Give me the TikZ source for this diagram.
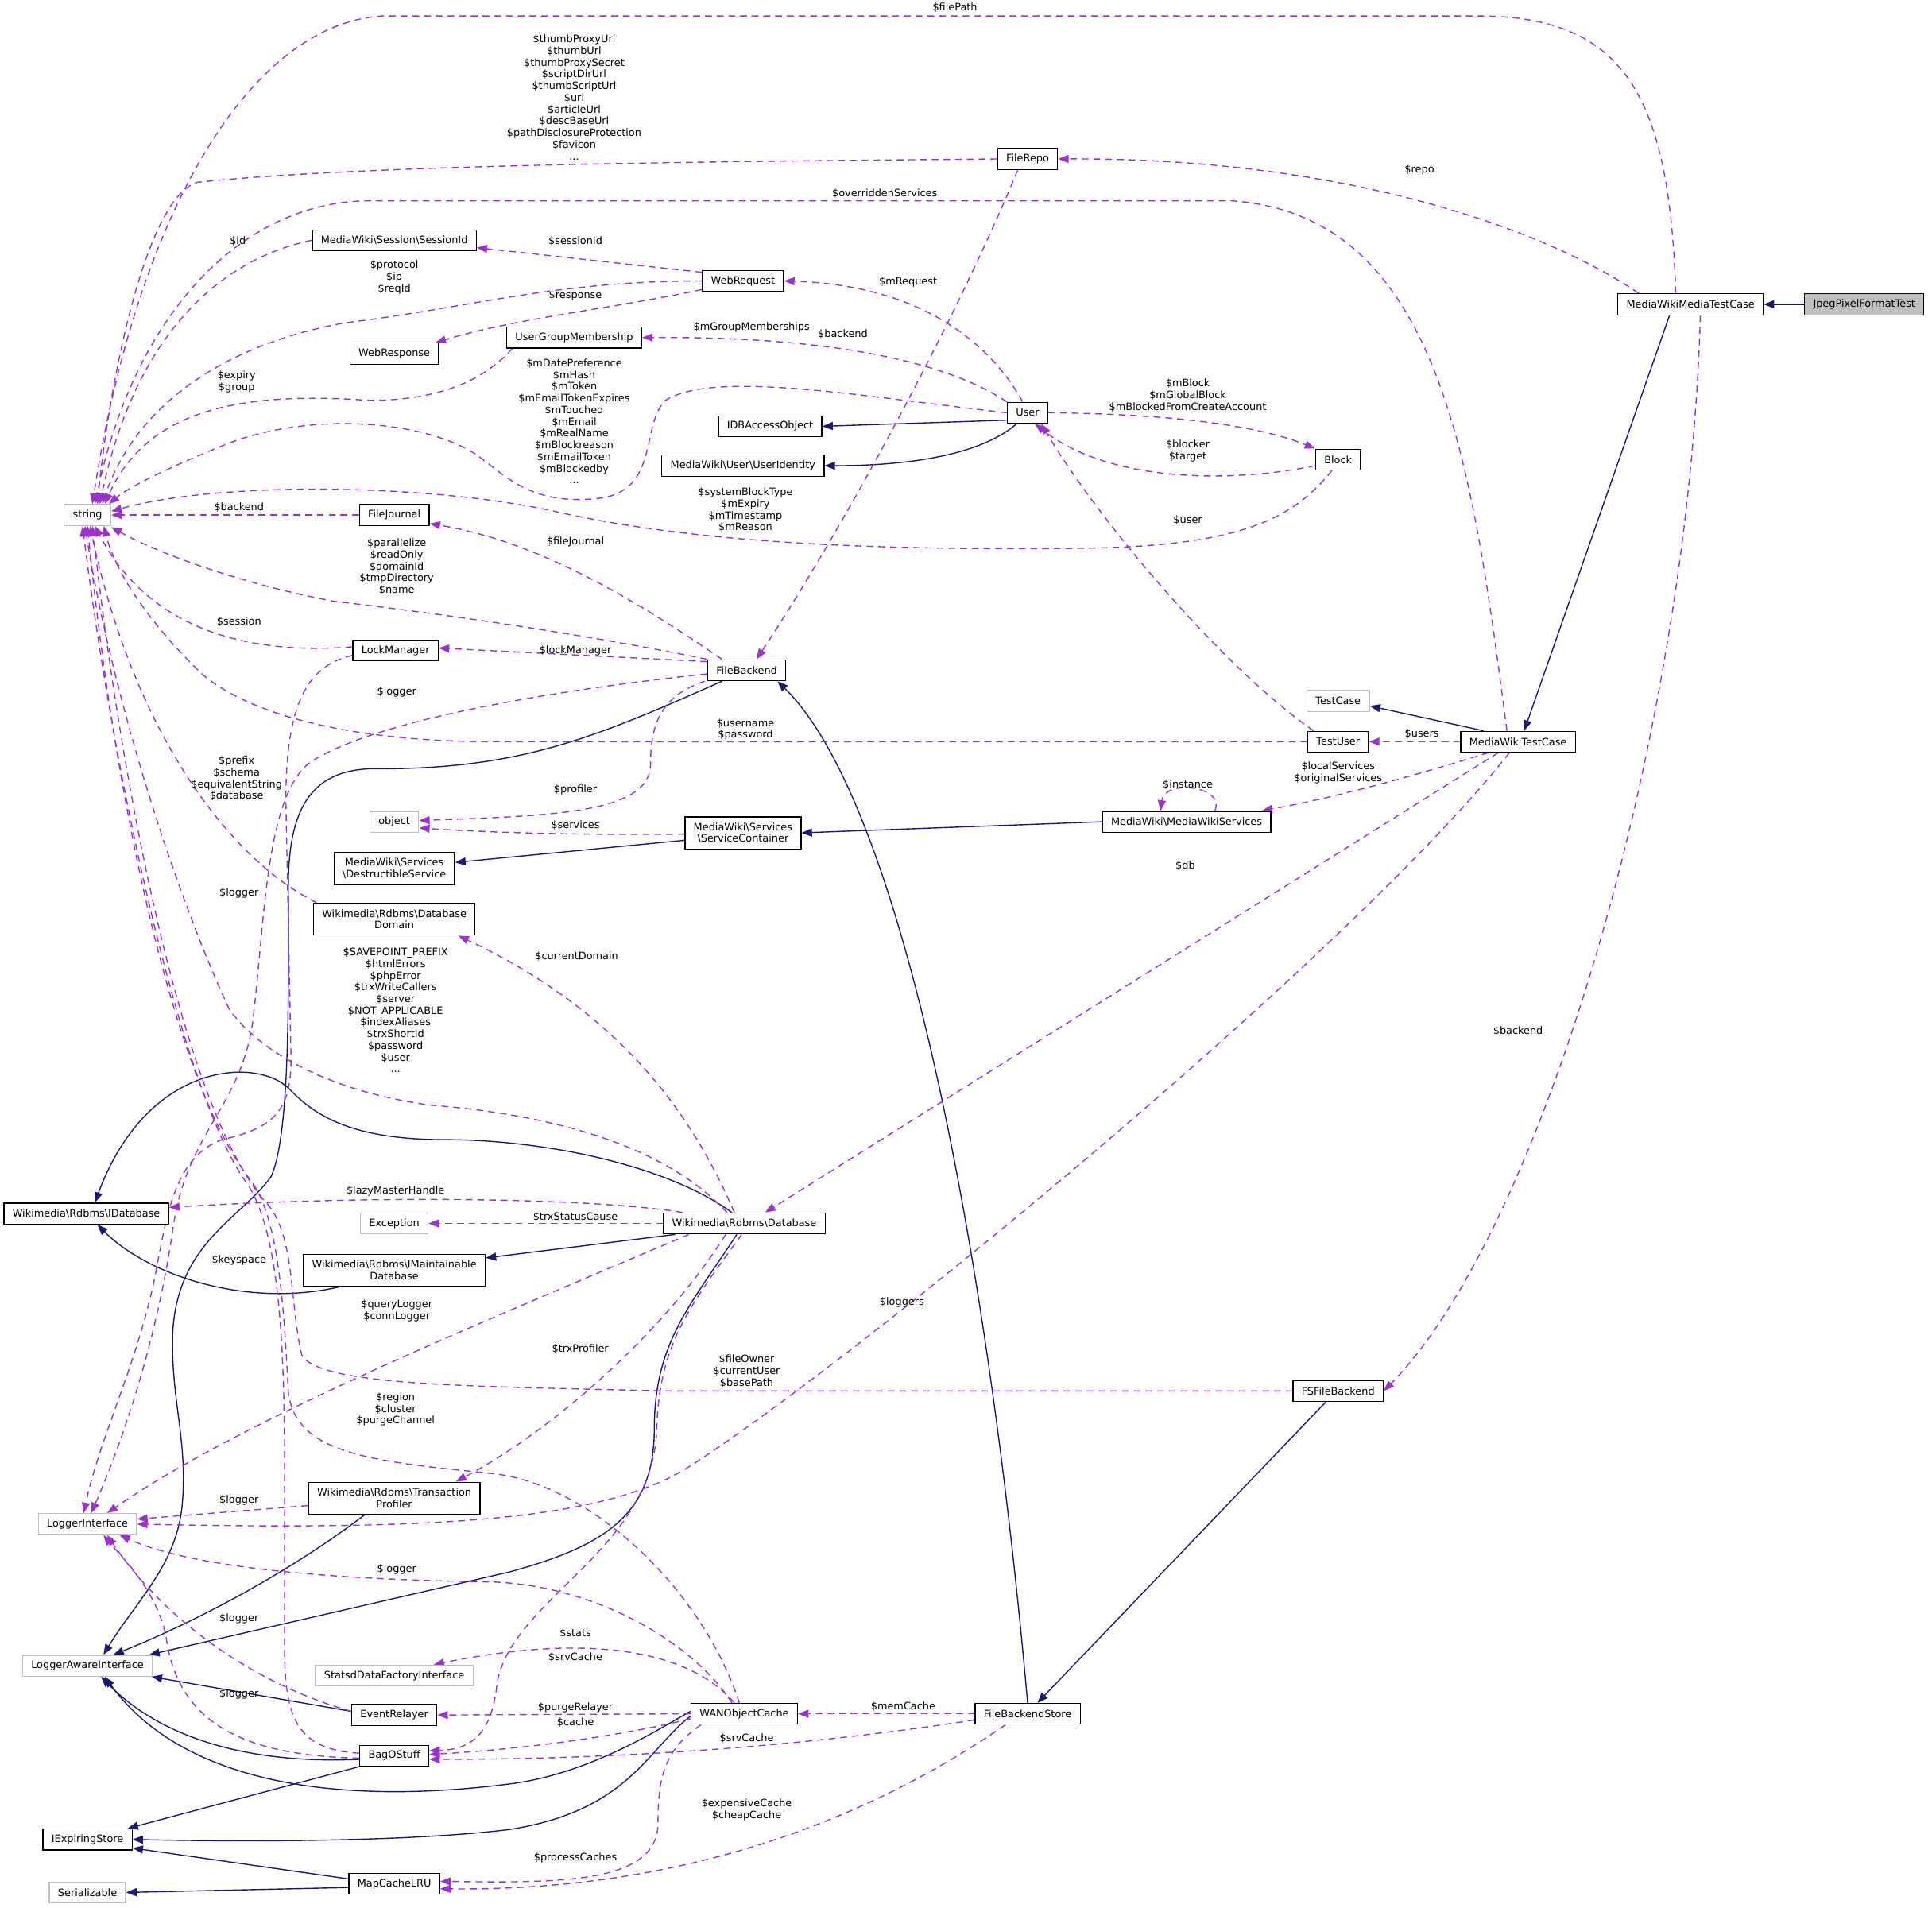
\documentclass[tikz,border=0pt]{standalone}
\usepackage{fontspec}
\setmainfont{DejaVu Sans}
\usetikzlibrary{arrows.meta}
\definecolor{edgeblue}{HTML}{191970}
\definecolor{edgepurple}{HTML}{9A32CD}
\definecolor{boxgray}{HTML}{BFBFBF}
\newcommand{\dgfont}{\fontsize{8.3}{9.5}\selectfont}
\pgfdeclarelayer{edgelayer}
\pgfsetlayers{edgelayer,main}
\begin{document}
\begin{tikzpicture}[x=1pt,y=-1pt,
  cls/.style={draw=black, line width=0.8pt, fill=white, font=\dgfont, inner xsep=7pt, inner ysep=0pt, minimum height=17pt, align=center},
  ext/.style={cls, draw=boxgray},
  two/.style={minimum height=26pt},
  lbl/.style={font=\dgfont, inner sep=0pt, align=center},
  inh/.style={draw=edgeblue, line width=0.9pt, -{Triangle[length=8.5pt,width=6.5pt]}},
  dep/.style={draw=edgepurple, line width=0.9pt, dash pattern=on 5.5pt off 4pt, -{Triangle[length=8.5pt,width=6.5pt]}}]
\useasboundingbox (0,0) rectangle (1568,1548);
% nodes
\node[cls, fill=boxgray] (jpeg) at (1513,247) {JpegPixelFormatTest};
\node[cls] (mwmtc) at (1372,247) {MediaWikiMediaTestCase};
\node[cls] (filerepo) at (834,129) {FileRepo};
\node[cls] (sessid) at (320,195) {MediaWiki\textbackslash Session\textbackslash SessionId};
\node[cls] (webreq) at (603,228) {WebRequest};
\node[cls] (webresp) at (320,287) {WebResponse};
\node[cls] (ugm) at (466,274) {UserGroupMembership};
\node[cls] (user) at (834,335) {User};
\node[cls] (idb) at (625,346) {IDBAccessObject};
\node[cls] (uident) at (603,378) {MediaWiki\textbackslash User\textbackslash UserIdentity};
\node[cls] (block) at (1086,373) {Block};
\node[ext] (string) at (71,418) {string};
\node[cls] (filejournal) at (320,418) {FileJournal};
\node[cls] (lockmgr) at (321,528) {LockManager};
\node[cls] (filebackend) at (606,544) {FileBackend};
\node[ext] (testcase) at (1086,569) {TestCase};
\node[cls] (testuser) at (1086,602) {TestUser};
\node[cls] (mwtc) at (1232,602) {MediaWikiTestCase};
\node[ext] (object) at (320,667) {object};
\node[cls,two] (servcont) at (603,676) {MediaWiki\textbackslash Services\\\textbackslash ServiceContainer};
\node[cls] (mwservices) at (963,667) {MediaWiki\textbackslash MediaWikiServices};
\node[cls,two] (destr) at (320,705) {MediaWiki\textbackslash Services\\\textbackslash DestructibleService};
\node[cls,two] (dbdomain) at (320,746) {Wikimedia\textbackslash Rdbms\textbackslash Database\\Domain};
\node[cls] (idatabase) at (70,985) {Wikimedia\textbackslash Rdbms\textbackslash IDatabase};
\node[ext] (exception) at (320,993) {Exception};
\node[cls] (database) at (604,993) {Wikimedia\textbackslash Rdbms\textbackslash Database};
\node[cls,two] (imaint) at (320,1031) {Wikimedia\textbackslash Rdbms\textbackslash IMaintainable\\Database};
\node[cls] (fsfb) at (1086,1129) {FSFileBackend};
\node[cls,two] (transprof) at (320,1216) {Wikimedia\textbackslash Rdbms\textbackslash Transaction\\Profiler};
\node[ext] (loggeri) at (71,1237) {LoggerInterface};
\node[ext] (loggeraware) at (71,1352) {LoggerAwareInterface};
\node[ext] (statsd) at (320,1360) {StatsdDataFactoryInterface};
\node[cls] (eventrel) at (320,1392) {EventRelayer};
\node[cls] (wan) at (604,1391) {WANObjectCache};
\node[cls] (fbs) at (834,1391) {FileBackendStore};
\node[cls] (bag) at (320,1425) {BagOStuff};
\node[cls] (iexp) at (71,1493) {IExpiringStore};
\node[cls] (maplru) at (320,1529) {MapCacheLRU};
\node[ext] (serializ) at (71,1536) {Serializable};
% labels
\node[lbl] (l1) at (775,6) {\$filePath};
\node[lbl] (l2) at (1152,138) {\$repo};
\node[lbl] (l3) at (466,79) {\$thumbProxyUrl\\\$thumbUrl\\\$thumbProxySecret\\\$scriptDirUrl\\\$thumbScriptUrl\\\$url\\\$articleUrl\\\$descBaseUrl\\\$pathDisclosureProtection\\\$favicon\\...};
\node[lbl] (l4) at (684,271) {\$backend};
\node[lbl] (l5) at (718,157) {\$overriddenServices};
\node[lbl] (l6) at (193,196) {\$id};
\node[lbl] (l7) at (467,196) {\$sessionId};
\node[lbl] (l8) at (320,225) {\$protocol\\\$ip\\\$reqId};
\node[lbl] (l9) at (467,240) {\$response};
\node[lbl] (l10) at (737,229) {\$mRequest};
\node[lbl] (l11) at (610,266) {\$mGroupMemberships};
\node[lbl] (l12) at (192,310) {\$expiry\\\$group};
\node[lbl] (l13) at (466,342) {\$mDatePreference\\\$mHash\\\$mToken\\\$mEmailTokenExpires\\\$mTouched\\\$mEmail\\\$mRealName\\\$mBlockreason\\\$mEmailToken\\\$mBlockedby\\...};
\node[lbl] (l14) at (964,321) {\$mBlock\\\$mGlobalBlock\\\$mBlockedFromCreateAccount};
\node[lbl] (l15) at (964,366) {\$blocker\\\$target};
\node[lbl] (l16) at (964,422) {\$user};
\node[lbl] (l17) at (605,414) {\$systemBlockType\\\$mExpiry\\\$mTimestamp\\\$mReason};
\node[lbl] (l18) at (194,412) {\$backend};
\node[lbl] (l19) at (467,440) {\$fileJournal};
\node[lbl] (l20) at (322,460) {\$parallelize\\\$readOnly\\\$domainId\\\$tmpDirectory\\\$name};
\node[lbl] (l21) at (194,505) {\$session};
\node[lbl] (l22) at (467,528) {\$lockManager};
\node[lbl] (l23) at (322,562) {\$logger};
\node[lbl] (l24) at (605,592) {\$username\\\$password};
\node[lbl] (l25) at (1154,596) {\$users};
\node[lbl] (l26) at (1086,627) {\$localServices\\\$originalServices};
\node[lbl] (l27) at (964,637) {\$instance};
\node[lbl] (l28) at (467,641) {\$profiler};
\node[lbl] (l29) at (467,670) {\$services};
\node[lbl] (l30) at (192,632) {\$prefix\\\$schema\\\$equivalentString\\\$database};
\node[lbl] (l31) at (194,725) {\$logger};
\node[lbl] (l32) at (962,703) {\$db};
\node[lbl] (l33) at (468,776) {\$currentDomain};
\node[lbl] (l34) at (321,820) {\$SAVEPOINT\_PREFIX\\\$htmlErrors\\\$phpError\\\$trxWriteCallers\\\$server\\\$NOT\_APPLICABLE\\\$indexAliases\\\$trxShortId\\\$password\\\$user\\...};
\node[lbl] (l35) at (1232,837) {\$backend};
\node[lbl] (l36) at (321,967) {\$lazyMasterHandle};
\node[lbl] (l37) at (467,988) {\$trxStatusCause};
\node[lbl] (l38) at (194,1023) {\$keyspace};
\node[lbl] (l39) at (322,1064) {\$queryLogger\\\$connLogger};
\node[lbl] (l40) at (732,1057) {\$loggers};
\node[lbl] (l41) at (471,1095) {\$trxProfiler};
\node[lbl] (l42) at (606,1113) {\$fileOwner\\\$currentUser\\\$basePath};
\node[lbl] (l43) at (321,1144) {\$region\\\$cluster\\\$purgeChannel};
\node[lbl] (l44) at (194,1218) {\$logger};
\node[lbl] (l45) at (322,1274) {\$logger};
\node[lbl] (l46) at (194,1314) {\$logger};
\node[lbl] (l47) at (467,1326) {\$stats};
\node[lbl] (l48) at (467,1345) {\$srvCache};
\node[lbl] (l49) at (194,1375) {\$logger};
\node[lbl] (l50) at (733,1385) {\$memCache};
\node[lbl] (l51) at (467,1386) {\$purgeRelayer};
\node[lbl] (l52) at (467,1398) {\$cache};
\node[lbl] (l53) at (606,1411) {\$srvCache};
\node[lbl] (l54) at (606,1469) {\$expensiveCache\\\$cheapCache};
\node[lbl] (l55) at (467,1508) {\$processCaches};
\begin{pgfonlayer}{edgelayer}
% inheritance
\draw[inh] (jpeg) -- (mwmtc);
\draw[inh] ([xshift=-17pt]mwmtc.south) -- ([xshift=5pt]mwtc.north);
\draw[inh] ([xshift=-28pt]mwtc.north) -- ([yshift=-4pt]testcase.east);
\draw[inh] ([yshift=-6pt]user.west) -- (idb.east);
\draw[inh] ([xshift=-9pt]user.south) .. controls (805,362) and (760,378) .. (uident.east);
\draw[inh] (mwservices.west) -- (servcont.east);
\draw[inh] ([yshift=-6pt]servcont.west) -- ([yshift=5pt]destr.east);
\draw[inh] ([xshift=-10pt]database.north) .. controls (540,945) and (440,925) .. (361,925) .. controls (285,925) and (255,905) .. (235,884) .. controls (210,858) and (120,860) .. ([xshift=7pt]idatabase.north);
\draw[inh] ([xshift=-44pt]imaint.south) .. controls (200,1062) and (120,1035) .. ([xshift=9pt]idatabase.south);
\draw[inh] ([xshift=10pt]database.south west) -- ([yshift=10pt]imaint.east);
\draw[inh] (fbs.north) .. controls (800,1000) and (730,650) .. ([xshift=25pt]filebackend.south);
\draw[inh] ([xshift=-10pt]fsfb.south) -- ([xshift=8pt]fbs.north);
\draw[inh] ([xshift=-20pt]filebackend.south) .. controls (480,600) and (420,625) .. (300,624) .. controls (250,626) and (234,660) .. (234,720) .. controls (234,800) and (236,920) .. (220,955) .. controls (195,990) and (140,1010) .. (140,1090) .. controls (140,1140) and (152,1170) .. (148,1220) .. controls (144,1270) and (110,1300) .. ([xshift=13pt]loggeraware.north);
\draw[inh] ([xshift=-6pt]database.south) .. controls (560,1060) and (531,1090) .. (531,1160) .. controls (531,1230) and (490,1255) .. (413,1276) -- ([xshift=-3pt]loggeraware.north east);
\draw[inh] ([xshift=-24pt]transprof.south) .. controls (230,1280) and (150,1320) .. ([xshift=21pt]loggeraware.north);
\draw[inh] ([yshift=3pt]eventrel.west) -- ([xshift=-1pt]loggeraware.south east);
\draw[inh] ([yshift=-3pt]bag.west) .. controls (200,1432) and (130,1410) .. ([xshift=11pt]loggeraware.south);
\draw[inh] ([yshift=2pt]wan.west) .. controls (540,1400) and (480,1440) .. (413,1448) .. controls (280,1465) and (150,1450) .. ([xshift=14pt]loggeraware.south);
\draw[inh] (bag.south west) -- ([xshift=-4pt]iexp.north east);
\draw[inh] ([yshift=-2pt]wan.west) .. controls (525,1420) and (510,1470) .. (413,1485) .. controls (330,1495) and (200,1495) .. (iexp.east);
\draw[inh] ([yshift=4pt]maplru.west) -- ([yshift=-7pt]iexp.east);
\draw[inh] ([yshift=-3pt]maplru.west) -- (serializ.east);
% dependencies
\draw[dep] ([xshift=-12pt]mwmtc.north) .. controls (1355,80) and (1320,13) .. (1200,13) -- (310,13) .. controls (200,20) and (110,180) .. ([xshift=4pt]string.north);
\draw[dep] ([xshift=-42pt]mwmtc.north) .. controls (1260,190) and (1100,128) .. (filerepo.east);
\draw[dep] (filerepo.west) .. controls (600,131) and (300,133) .. (160,148) .. controls (120,160) and (90,300) .. ([xshift=8pt]string.north);
\draw[dep] ([xshift=-8pt]filerepo.south) .. controls (780,250) and (690,420) .. ([xshift=8pt]filebackend.north);
\draw[dep] ([xshift=-9pt]mwtc.north) .. controls (1195,380) and (1170,175) .. (1000,163) -- (300,163) .. controls (200,163) and (110,250) .. ([xshift=6pt]string.north);
\draw[dep] (sessid.west) .. controls (180,210) and (110,270) .. ([xshift=10pt]string.north);
\draw[dep] ([yshift=7pt]webreq.west) -- ([yshift=-6pt]sessid.east);
\draw[dep] (webreq.west) .. controls (450,228) and (380,250) .. (280,262) .. controls (180,280) and (110,330) .. ([xshift=12pt]string.north);
\draw[dep] ([yshift=-7pt]webreq.west) .. controls (500,250) and (420,258) .. ([xshift=-3pt]webresp.north east);
\draw[dep] ([xshift=-4pt]user.north) .. controls (810,290) and (760,232) .. (webreq.east);
\draw[dep] (user.north west) .. controls (770,295) and (680,273) .. (ugm.east);
\draw[dep] ([xshift=-50pt]ugm.south) .. controls (400,300) and (370,325) .. (300,325) .. controls (200,318) and (120,330) .. ([xshift=14pt]string.north);
\draw[dep] (user.west) .. controls (700,322) and (580,300) .. (540,325) .. controls (520,345) and (535,395) .. (490,404) .. controls (430,412) and (410,385) .. (385,368) .. controls (340,340) and (250,335) .. (185,360) .. controls (140,378) and (105,395) .. ([xshift=-2pt]string.north east);
\draw[dep] ([xshift=-5pt]block.south) .. controls (1050,420) and (1010,443) .. (880,445) .. controls (700,447) and (560,440) .. (450,415) .. controls (350,393) and (180,390) .. ([yshift=3pt]string.east);
\draw[dep] (user.east) .. controls (950,336) and (1020,345) .. (block.north west);
\draw[dep] ([yshift=-5pt]block.west) .. controls (1000,392) and (900,392) .. ([xshift=6pt]user.south);
\draw[dep] ([xshift=-20pt]testuser.north) .. controls (990,540) and (890,420) .. ([xshift=11pt]user.south);
\draw[dep] (filejournal.west) -- (string.east);
\draw[dep] (filebackend.north west) .. controls (450,510) and (330,495) .. (271,488) .. controls (200,475) and (130,450) .. ([yshift=-1pt]string.south east);
\draw[dep] ([yshift=3pt]lockmgr.west) .. controls (200,532) and (120,510) .. ([xshift=6pt]string.south);
\draw[dep] ([yshift=7pt]filebackend.west) -- ([yshift=2pt]lockmgr.east);
\draw[dep] ([xshift=-20pt]filebackend.north) .. controls (520,490) and (440,440) .. ([yshift=-7pt]filejournal.east);
\draw[dep] ([yshift=-3pt]filebackend.west) .. controls (450,560) and (300,585) .. (250,620) .. controls (215,650) and (215,750) .. (205,830) .. controls (195,900) and (150,920) .. (140,1000) .. controls (125,1100) and (95,1180) .. ([xshift=3pt]loggeri.north);
\draw[dep] ([yshift=-4pt]lockmgr.west) .. controls (250,540) and (232,570) .. (232,650) -- (236,850) .. controls (238,900) and (225,915) .. (180,925) .. controls (140,940) and (135,990) .. (125,1040) .. controls (110,1110) and (80,1170) .. ([xshift=-3pt]loggeri.north);
\draw[dep] ([xshift=-34pt]filebackend.south) .. controls (535,565) and (528,590) .. (528,620) .. controls (528,660) and (450,662) .. ([yshift=1pt]object.east);
\draw[dep] ([yshift=-1pt]servcont.west) .. controls (480,678) and (400,676) .. ([yshift=-5pt]object.east);
\draw[dep] (testuser.west) -- (400,602) .. controls (300,602) and (210,585) .. (165,548) .. controls (130,515) and (95,470) .. ([xshift=-6pt]string.south east);
\draw[dep] (mwtc.west) -- (testuser.east);
\draw[dep] ([xshift=-24pt]mwtc.south) .. controls (1140,632) and (1080,648) .. ([xshift=61pt]mwservices.north);
\draw[dep] ([xshift=23pt]mwservices.north) .. controls (995,638) and (945,632) .. ([xshift=-21pt]mwservices.north);
\draw[dep] ([xshift=-16pt]mwtc.south) -- ([xshift=17pt]database.north);
\draw[dep] ([xshift=-7pt]mwtc.south) .. controls (1100,770) and (700,1100) .. (560,1190) .. controls (490,1235) and (350,1242) .. (loggeri.east);
\draw[dep] ([xshift=8pt]mwmtc.south) .. controls (1370,600) and (1250,1000) .. (fsfb.east);
\draw[dep] ([xshift=-63pt]dbdomain.north) .. controls (190,700) and (110,600) .. ([xshift=2pt]string.south);
\draw[dep] ([xshift=-8pt]database.north) .. controls (560,900) and (500,820) .. ([xshift=52pt]dbdomain.south);
\draw[dep] ([xshift=-14pt]database.north) .. controls (540,930) and (450,905) .. (350,897) .. controls (280,888) and (215,860) .. (186,819) .. controls (140,720) and (90,560) .. ([xshift=-2pt]string.south);
\draw[dep] ([xshift=-50pt]database.north) .. controls (480,972) and (300,970) .. ([yshift=5pt]idatabase.east);
\draw[dep] (database.west) -- (exception.east);
\draw[dep] ([xshift=-45pt]database.south) .. controls (400,1070) and (200,1150) .. ([xshift=16pt]loggeri.north);
\draw[dep] ([xshift=-15pt]database.south) .. controls (540,1080) and (450,1160) .. ([xshift=50pt]transprof.north);
\draw[dep] ([xshift=-2pt]database.south) .. controls (560,1060) and (535,1090) .. (533,1160) .. controls (530,1260) and (410,1300) .. (403,1370) .. controls (398,1410) and (380,1420) .. ([yshift=4pt]bag.east);
\draw[dep] (fsfb.west) -- (540,1129) .. controls (380,1125) and (260,1125) .. (245,1100) .. controls (235,1060) and (240,1000) .. (215,975) .. controls (150,900) and (100,650) .. ([xshift=4pt]string.south);
\draw[dep] ([xshift=-4pt]wan.north) .. controls (570,1290) and (480,1205) .. (400,1196) .. controls (300,1186) and (240,1180) .. (234,1130) .. controls (230,1050) and (225,990) .. (205,960) .. controls (140,880) and (92,640) .. (string.south);
\draw[dep] ([yshift=2pt]bag.west) .. controls (245,1420) and (231,1400) .. (231,1340) -- (231,1200) .. controls (231,1100) and (228,1000) .. (200,960) .. controls (150,890) and (95,650) .. ([xshift=-4pt]string.south);
\draw[dep] ([yshift=-6pt]transprof.west) -- ([yshift=4pt]loggeri.east);
\draw[dep] ([xshift=-10pt]wan.north) .. controls (560,1330) and (480,1287) .. (400,1284) .. controls (250,1282) and (150,1270) .. ([xshift=26pt]loggeri.south);
\draw[dep] ([yshift=3pt]eventrel.west) .. controls (200,1365) and (130,1310) .. ([xshift=16pt]loggeri.south);
\draw[dep] ([yshift=-2pt]bag.west) .. controls (200,1425) and (145,1400) .. (135,1330) .. controls (128,1290) and (95,1260) .. ([xshift=13pt]loggeri.south);
\draw[dep] ([xshift=-8pt]wan.north) .. controls (560,1340) and (480,1325) .. ([xshift=32pt]statsd.north);
\draw[dep] (wan.west) -- (eventrel.east);
\draw[dep] ([yshift=-4pt]wan.west) .. controls (500,1410) and (420,1420) .. ([yshift=1pt]bag.east);
\draw[dep] (fbs.west) -- (wan.east);
\draw[dep] ([yshift=-5pt]fbs.west) .. controls (700,1410) and (550,1428) .. ([yshift=-3pt]bag.east);
\draw[dep] ([xshift=-18pt]fbs.south) .. controls (700,1480) and (550,1535) .. ([yshift=-4pt]maplru.east);
\draw[dep] ([xshift=-35pt]wan.south) .. controls (540,1420) and (534,1440) .. (534,1480) .. controls (534,1530) and (450,1528) .. ([yshift=2pt]maplru.east);
\end{pgfonlayer}
\end{tikzpicture}
\end{document}
